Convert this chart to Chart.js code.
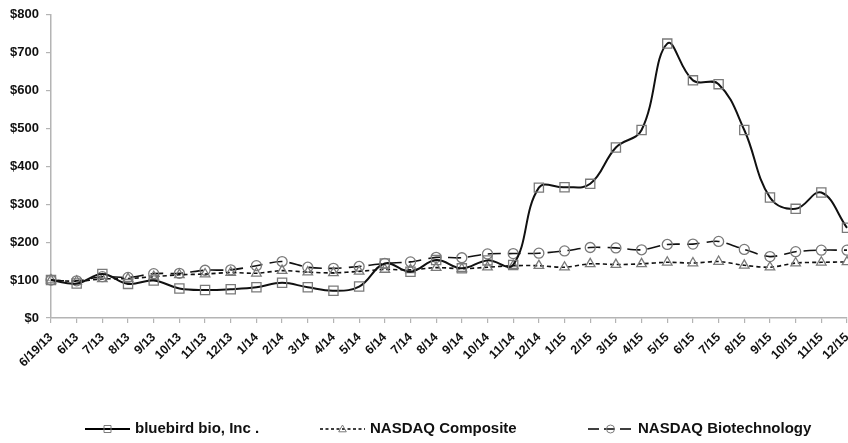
<!DOCTYPE html>
<html>
<head>
<meta charset="utf-8">
<script src="https://cdn.jsdelivr.net/npm/chart.js@4.4.1/dist/chart.umd.min.js"></script>
<style>
  html, body { margin: 0; padding: 0; background: #fff; }
  #wrap { width: 848px; height: 443px; position: relative; }
</style>
</head>
<body>
<div id="wrap"><canvas id="c" width="848" height="443"></canvas></div>
<script>
const categories = ['6/19/13','6/13','7/13','8/13','9/13','10/13','11/13','12/13',
  '1/14','2/14','3/14','4/14','5/14','6/14','7/14','8/14','9/14','10/14','11/14','12/14',
  '1/15','2/15','3/15','4/15','5/15','6/15','7/15','8/15','9/15','10/15','11/15','12/15'];

const bluebird = [100, 91, 116, 90, 99, 78, 74, 76, 81, 93, 81, 72, 83, 144, 122, 153,
  131, 152, 140, 344, 345, 354, 450, 496, 724, 627, 617, 496, 318, 288, 331, 238];

const nasdaqComposite = [100, 97, 103, 104, 109, 114, 116, 120, 118, 125, 121, 119, 123,
  128, 127, 133, 130, 134, 138, 138, 134, 143, 141, 143, 147, 145, 149, 139, 134, 145, 147, 148];

const nasdaqBiotech = [100, 98, 109, 107, 117, 118, 126, 127, 138, 149, 134, 131, 136,
  144, 148, 160, 159, 169, 170, 171, 177, 186, 185, 180, 194, 195, 202, 181, 162, 175, 179, 179];

const seriesNames = ['bluebird bio, Inc .', 'NASDAQ Composite', 'NASDAQ Biotechnology'];
const yTicks = [0, 100, 200, 300, 400, 500, 600, 700, 800];

const FONT = '"Liberation Sans", Arial, Helvetica, sans-serif';
const AXIS = '#b4b4b4';
const MARK = '#7a7a7a';

// legend layout (positions only)
const legendX = [85, 320, 588];
const legendY = 429;

function drawMarker(ctx, style, x, y, r) {
  ctx.beginPath();
  if (style === 'rect') {
    ctx.rect(x - r, y - r, 2 * r, 2 * r);
  } else if (style === 'triangle') {
    ctx.moveTo(x, y - r);
    ctx.lineTo(x + r * 0.95, y + r * 0.7);
    ctx.lineTo(x - r * 0.95, y + r * 0.7);
    ctx.closePath();
  } else {
    ctx.arc(x, y, r, 0, Math.PI * 2);
  }
  ctx.stroke();
}

const legendPlugin = {
  id: 'customLegend',
  afterDraw(chart) {
    const ctx = chart.ctx;
    ctx.save();
    chart.data.datasets.forEach((ds, i) => {
      const x = legendX[i], y = legendY;
      const w = 45;
      ctx.strokeStyle = '#000';
      ctx.lineWidth = i === 0 ? 2 : 1.6;
      ctx.setLineDash(i === 0 ? [] : (i === 1 ? [3, 2.5] : [11, 5]));
      ctx.beginPath();
      ctx.moveTo(x, y);
      ctx.lineTo(x + w, y);
      ctx.stroke();
      ctx.setLineDash([]);
      ctx.strokeStyle = MARK;
      ctx.lineWidth = 1;
      const st = ds.pointStyle;
      drawMarker(ctx, st, x + w / 2, y, st === 'rect' ? 3.5 : 4);
      ctx.fillStyle = '#111';
      ctx.font = 'bold 15px ' + FONT;
      ctx.textAlign = 'left';
      ctx.textBaseline = 'middle';
      ctx.fillText(ds.label, x + w + 5, y);
    });
    ctx.restore();
  }
};

const ctx = document.getElementById('c').getContext('2d');
new Chart(ctx, {
  type: 'line',
  data: {
    labels: categories,
    datasets: [
      {
        label: seriesNames[0],
        data: bluebird,
        borderColor: '#111',
        borderWidth: 2,
        tension: 0.4,
        pointStyle: 'rect',
        pointRadius: 6.5,
        pointBorderColor: MARK,
        pointBackgroundColor: 'rgba(0,0,0,0)',
        pointBorderWidth: 1.3
      },
      {
        label: seriesNames[1],
        data: nasdaqComposite,
        borderColor: '#111',
        borderWidth: 1.6,
        borderDash: [4, 3],
        tension: 0.3,
        pointStyle: 'triangle',
        pointRadius: 5.5,
        pointBorderColor: MARK,
        pointBackgroundColor: 'rgba(0,0,0,0)',
        pointBorderWidth: 1.3
      },
      {
        label: seriesNames[2],
        data: nasdaqBiotech,
        borderColor: '#111',
        borderWidth: 1.6,
        borderDash: [13, 7],
        tension: 0.3,
        pointStyle: 'circle',
        pointRadius: 5,
        pointBorderColor: MARK,
        pointBackgroundColor: 'rgba(0,0,0,0)',
        pointBorderWidth: 1.3
      }
    ]
  },
  options: {
    responsive: false,
    animation: false,
    devicePixelRatio: 1,
    layout: { autoPadding: false, padding: { top: 13, right: 1, bottom: 0, left: 0 } },
    plugins: {
      legend: { display: false },
      tooltip: { enabled: false },
      title: { display: false }
    },
    scales: {
      x: {
        type: 'category',
        offset: false,
        grid: { drawOnChartArea: false, drawTicks: true, tickLength: 5, color: AXIS, lineWidth: 1.2 },
        border: { color: AXIS, width: 1.5 },
        ticks: {
          autoSkip: false,
          minRotation: 45,
          maxRotation: 45,
          padding: 7,
          color: '#111',
          font: { family: FONT, size: 12.5, weight: 'bold' }
        },
        afterFit(scale) {
          scale.height = 443 - 318;
          scale.paddingLeft = 0;
          scale.paddingRight = 0;
        }
      },
      y: {
        min: 0,
        max: 800,
        afterBuildTicks(scale) {
          scale.ticks = yTicks.map(v => ({ value: v }));
        },
        grid: { drawOnChartArea: false, drawTicks: true, tickLength: 5, color: AXIS, lineWidth: 1.2 },
        border: { color: AXIS, width: 1.5 },
        ticks: {
          padding: 7,
          color: '#111',
          font: { family: FONT, size: 13, weight: 'bold' },
          callback: v => '$' + v
        },
        afterFit(scale) {
          scale.width = 51;
        }
      }
    }
  },
  plugins: [legendPlugin]
});
</script>
</body>
</html>
